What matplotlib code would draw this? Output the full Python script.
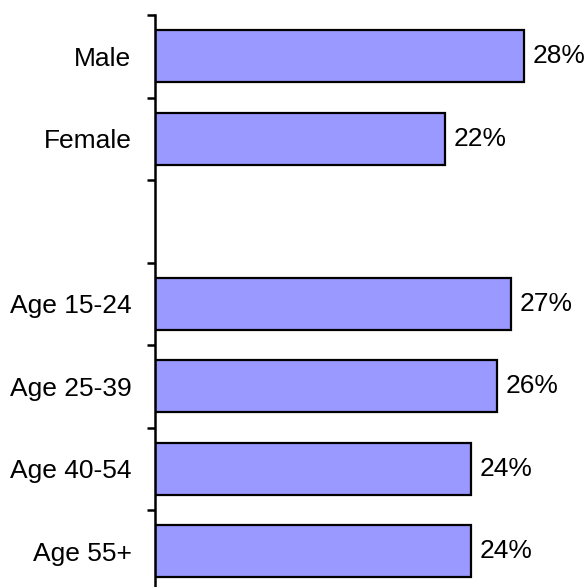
import numpy as np
import matplotlib.pyplot as plt

plt.rcParams['font.family'] = ['Liberation Sans', 'DejaVu Sans']

# data
categories = ['Male', 'Female', '', 'Age 15-24', 'Age 25-39', 'Age 40-54', 'Age 55+']
values = [28, 22, None, 27, 26, 24, 24]

fig = plt.figure(figsize=(5.87, 5.87), dpi=100)
# axes placed in pixels: y axis at x=155, top at y=15, bottom runs past the image edge
ax = fig.add_axes([155/587, -5.5/587, 30*13.17/587, 577.5/587])

pos = np.arange(len(categories))
for p, v in zip(pos, values):
    if v is None:
        continue
    ax.barh(p, v, height=0.63, color='#9999ff', edgecolor='black', linewidth=1.6)
    ax.text(v + 0.65, p, f'{v}%', va='center', ha='left', fontsize=19)

ax.set_xlim(0, 30)
ax.set_ylim(len(categories) - 0.5, -0.5)

ax.set_yticks(pos)
ax.set_yticklabels(categories, fontsize=19)
ax.set_yticks(np.arange(len(categories) + 1) - 0.5, minor=True)
ax.tick_params(axis='y', which='major', length=0, pad=17)
ax.tick_params(axis='y', which='minor', length=6, width=1.8, direction='out')
ax.set_xticks([])

for s in ['top', 'right', 'bottom']:
    ax.spines[s].set_visible(False)
ax.spines['left'].set_linewidth(1.8)

fig.savefig('out.png', dpi=100)
